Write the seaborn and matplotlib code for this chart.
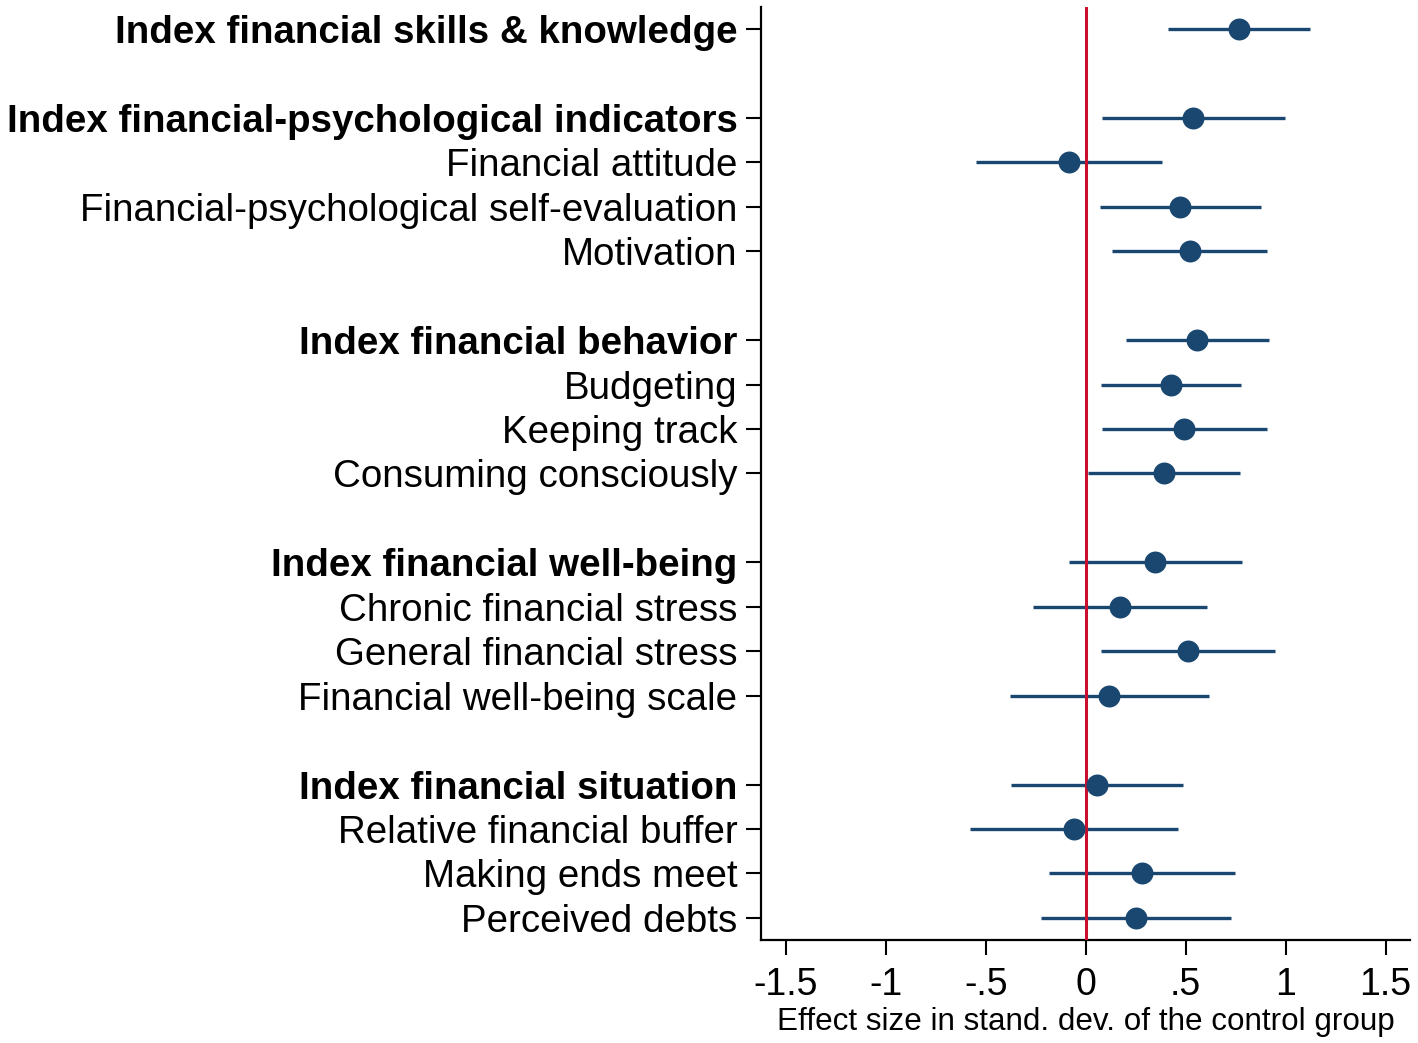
import numpy as np
import pandas as pd
import matplotlib
matplotlib.use("Agg")
import matplotlib.pyplot as plt
import seaborn as sns

# ---- data ----
labels = [
    "Index financial skills & knowledge",
    "Index financial-psychological indicators",
    "Financial attitude",
    "Financial-psychological self-evaluation",
    "Motivation",
    "Index financial behavior",
    "Budgeting",
    "Keeping track",
    "Consuming consciously",
    "Index financial well-being",
    "Chronic financial stress",
    "General financial stress",
    "Financial well-being scale",
    "Index financial situation",
    "Relative financial buffer",
    "Making ends meet",
    "Perceived debts",
]
group = [0, 1, 1, 1, 1, 2, 2, 2, 2, 3, 3, 3, 3, 4, 4, 4, 4]
is_index = [True, True, False, False, False, True, False, False, False,
            True, False, False, False, True, False, False, False]
estimate = [0.765, 0.535, -0.083, 0.47, 0.52, 0.558, 0.425, 0.49, 0.39,
            0.348, 0.173, 0.51, 0.117, 0.054, -0.061, 0.281, 0.251]
ci_low = [0.41, 0.08, -0.548, 0.072, 0.133, 0.20, 0.078, 0.082, 0.013,
          -0.082, -0.262, 0.075, -0.38, -0.375, -0.58, -0.182, -0.222]
ci_high = [1.12, 0.995, 0.382, 0.875, 0.905, 0.917, 0.777, 0.905, 0.772,
           0.782, 0.608, 0.948, 0.616, 0.489, 0.462, 0.748, 0.725]
xticks = [-1.5, -1, -0.5, 0, 0.5, 1, 1.5]
xticklabels = ["-1.5", "-1", "-.5", "0", ".5", "1", "1.5"]
xlabel = "Effect size in stand. dev. of the control group"

# row positions: one blank row between groups
pos = []
p = 0
prev = group[0]
for g in group:
    if g != prev:
        p += 1
        prev = g
    pos.append(p)
    p += 1

df = pd.DataFrame({"label": labels, "est": estimate, "lo": ci_low,
                   "hi": ci_high, "pos": pos})

sns.set_theme(style="white")
plt.rcParams["font.family"] = ["Liberation Sans", "DejaVu Sans"]
plt.rcParams["text.color"] = "black"
plt.rcParams["axes.labelcolor"] = "black"
plt.rcParams["xtick.color"] = "black"
plt.rcParams["ytick.color"] = "black"

navy = "#1a476f"
red = "#c8102e"

fig = plt.figure(figsize=(14.18, 10.43), dpi=100)
ax = fig.add_axes([0.5367, 0.0986, 0.4580, 0.8949])

ax.hlines(df["pos"], df["lo"], df["hi"], color=navy, lw=2.4, zorder=2)
ax.axvline(0, color=red, lw=2.2, zorder=3)
sns.scatterplot(data=df, x="est", y="pos", ax=ax, s=250, color=navy,
                edgecolor=navy, linewidth=0, zorder=4, legend=False)

ax.set_xlim(-1.625, 1.625)
ax.set_ylim(max(pos) + 0.5, -0.5)
ax.set_xticks(xticks)
ax.set_xticklabels(xticklabels, fontsize=27)
ax.set_yticks(pos)
ax.set_yticklabels(labels, fontsize=27.7)
for t, b in zip(ax.get_yticklabels(), is_index):
    if b:
        t.set_fontweight("bold")
ax.set_xlabel(xlabel, fontsize=22.6)
ax.xaxis.set_label_coords(0.5, -0.072)
ax.set_ylabel("")

for s in ["top", "right"]:
    ax.spines[s].set_visible(False)
for s in ["left", "bottom"]:
    ax.spines[s].set_color("black")
    ax.spines[s].set_linewidth(1.6)
ax.tick_params(axis="both", direction="out", length=11, width=1.5,
               color="black", left=True, bottom=True)
ax.tick_params(axis="y", pad=6)
ax.tick_params(axis="x", pad=8.5)
ax.grid(False)

fig.savefig("out.png", dpi=100, facecolor="white")
